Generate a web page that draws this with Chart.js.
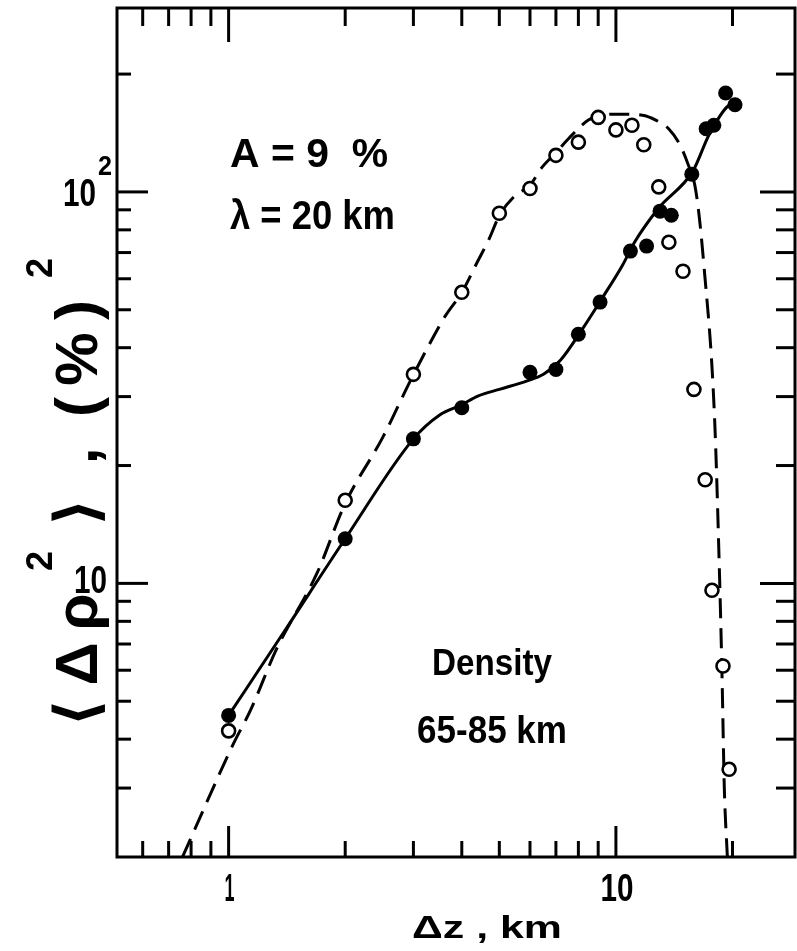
<!DOCTYPE html>
<html><head><meta charset="utf-8">
<script src="https://cdn.jsdelivr.net/npm/chart.js@4.4.1/dist/chart.umd.min.js"></script>
<style>html,body{margin:0;padding:0;background:#fff;overflow:hidden;}canvas{display:block;position:absolute;left:0;top:0;}</style>
</head><body>
<canvas id="c" width="797" height="951" style="width:797px;height:951px"></canvas>
<script>
// ---- data ----
const filledX = [1.0, 2.0, 3.0, 4.0, 6.0, 7.0, 8.0, 9.1, 10.9, 12.0, 13.0, 13.9, 15.7, 17.1, 17.9, 19.2, 20.3];
const filledY = [4.6, 13.0, 23.4, 28.1, 34.6, 35.2, 43.3, 52.3, 70.6, 72.7, 89.3, 87.2, 111, 145, 148, 179, 167];
const openX = [1.0, 2.0, 3.0, 4.0, 5.0, 6.0, 7.0, 8.0, 9.0, 10.0, 11.0, 11.8, 12.9, 13.7, 14.9, 15.9, 17.0, 17.7, 18.9, 19.6];
const openY = [4.2, 16.3, 34.2, 55.4, 88.2, 102, 124, 134, 155, 144, 148, 132, 103, 74.4, 62.7, 31.3, 18.4, 9.6, 6.15, 3.35];
const solidX = [1.0, 1.4, 2.0, 3.0, 3.5, 4.0, 4.4, 5.0, 5.9, 6.5, 7.2, 8.2, 9.2, 10.4, 11.2, 12.9, 15.8, 17.4, 19.5, 20.3];
const solidY = [4.6, 7.6, 13.0, 23.4, 26.9, 28.6, 30.1, 31.3, 32.9, 34.2, 37.2, 44.7, 53.4, 65, 74.7, 91, 113, 140, 166, 168];
const dashX = [0.76, 1.03, 1.14, 1.33, 1.69, 2.0, 2.5, 2.95, 3.39, 3.63, 4.0, 4.39, 4.71, 5.0, 5.47, 6.0, 6.42, 7.0, 7.53, 8.49, 9.2, 10.2, 11.7, 12.67, 13.7, 14.6, 15.3, 16.1, 16.9, 17.97, 18.5, 18.8, 19.05, 19.4];
const dashY = [2.0, 3.9, 4.75, 6.8, 10.6, 16.0, 23.6, 33, 42.9, 48.3, 55.4, 66.3, 76, 87, 97.5, 104, 115, 126, 136.5, 152.6, 157, 158, 157, 152.6, 144.8, 132.5, 118.8, 100, 63.8, 26.7, 10.8, 5.7, 3.0, 2.0];

const xMajorTicks = [1, 10];
const xTickLabels = ['1', '10'];
const xMinorTicks = [0.6, 0.7, 0.8, 0.9, 2, 3, 4, 5, 6, 7, 8, 9, 20];
const yMajorTicks = [10, 100];
const yTickBase = ['10', '10'];
const yTickExp = ['', '2'];
const yMinorTicks = [3, 4, 5, 6, 7, 8, 9, 20, 30, 40, 50, 60, 70, 80, 90, 200];

const yTitleGlyphs = ['\u27E8', '\u0394', '\u03C1', '2', '\u27E9', ',', '(', '%', ')', '2'];
const yTitleSup = [false, false, false, true, false, false, false, false, false, true];

const FONT = '"Liberation Sans", "DejaVu Sans", Arial, sans-serif';

function fitText(ctx, text, left, baseline, size, width) {
  ctx.save();
  ctx.font = 'bold ' + size + 'px ' + FONT;
  const w = ctx.measureText(text).width;
  ctx.translate(left, baseline);
  ctx.scale(width / w, 1);
  ctx.textAlign = 'left';
  ctx.textBaseline = 'alphabetic';
  ctx.fillText(text, 0, 0);
  ctx.restore();
}

const frameTicks = {
  id: 'frameTicks',
  afterDatasetsDraw(chart) {
    const ctx = chart.ctx, a = chart.chartArea, x = chart.scales.x, y = chart.scales.y;
    ctx.save();
    ctx.strokeStyle = '#000';
    ctx.fillStyle = '#000';
    ctx.lineWidth = 3;
    ctx.strokeRect(a.left, a.top, a.right - a.left, a.bottom - a.top);
    const seg = (x1, y1, x2, y2) => { ctx.beginPath(); ctx.moveTo(x1, y1); ctx.lineTo(x2, y2); ctx.stroke(); };
    xMajorTicks.forEach(v => { const p = x.getPixelForValue(v); seg(p, a.bottom, p, a.bottom - 31); seg(p, a.top, p, a.top + 34); });
    xMinorTicks.forEach(v => { const p = x.getPixelForValue(v); seg(p, a.bottom, p, a.bottom - 16); seg(p, a.top, p, a.top + 18); });
    yMajorTicks.forEach(v => { const p = y.getPixelForValue(v); seg(a.left, p, a.left + 31, p); seg(a.right, p, a.right - 35, p); });
    yMinorTicks.forEach(v => { const p = y.getPixelForValue(v); seg(a.left, p, a.left + 14, p); seg(a.right, p, a.right - 19, p); });

    // x tick labels
    xMajorTicks.forEach((v, i) => {
      const p = x.getPixelForValue(v);
      const w = i === 0 ? 10 : 33;
      fitText(ctx, xTickLabels[i], p - w / 2 + 1, 901, 38, w);
    });
    // y tick labels
    yMajorTicks.forEach((v, i) => {
      const p = y.getPixelForValue(v);
      if (yTickExp[i]) {
        fitText(ctx, yTickBase[i], 63, p + 14, 38, 33);
        fitText(ctx, yTickExp[i], 98, p - 17, 27, 14);
      } else {
        fitText(ctx, yTickBase[i], 74, p + 10, 38, 33);
      }
    });
    // x title
    fitText(ctx, '\u0394z , km', 412, 938, 32, 150);

    // y title (rotated, glyph by glyph)
    const centers = [713, 664, 612, 561, 512, 456, 407, 359, 310, 268];
    yTitleGlyphs.forEach((g, i) => {
      ctx.save();
      const sup = yTitleSup[i];
      ctx.translate(sup ? 52 : 97, centers[i]);
      ctx.rotate(-Math.PI / 2);
      ctx.font = 'bold ' + (sup ? 36 : 60) + 'px ' + FONT;
      ctx.textAlign = 'center';
      ctx.textBaseline = 'alphabetic';
      ctx.fillText(g, 0, 0);
      ctx.restore();
    });

    // annotations
    fitText(ctx, 'A = 9  %', 230, 167, 40, 158);
    fitText(ctx, '\u03BB = 20 km', 230, 229, 40, 165);
    fitText(ctx, 'Density', 432, 675, 36, 120);
    fitText(ctx, '65-85 km', 417, 743, 38, 150);
    ctx.restore();
  }
};

new Chart(document.getElementById('c'), {
  type: 'scatter',
  data: {
    datasets: [
      { label: 'filled', data: filledX.map((v, i) => ({x: v, y: filledY[i]})), showLine: false,
        pointRadius: 7.5, pointBackgroundColor: '#000', pointBorderColor: '#000', pointBorderWidth: 0 },
      { label: 'open', data: openX.map((v, i) => ({x: v, y: openY[i]})), showLine: false,
        pointRadius: 6.5, pointBackgroundColor: '#fff', pointBorderColor: '#000', pointBorderWidth: 2.6 },
      { label: 'solid', data: solidX.map((v, i) => ({x: v, y: solidY[i]})), showLine: true,
        borderColor: '#000', borderWidth: 3, pointRadius: 0, cubicInterpolationMode: 'monotone' },
      { label: 'dashed', data: dashX.map((v, i) => ({x: v, y: dashY[i]})), showLine: true,
        borderColor: '#000', borderWidth: 3, borderDash: [20, 10], pointRadius: 0, cubicInterpolationMode: 'monotone' }
    ]
  },
  options: {
    responsive: false,
    animation: false,
    devicePixelRatio: 1,
    layout: { autoPadding: false, padding: { left: 117, right: 2, top: 8, bottom: 94 } },
    plugins: { legend: { display: false }, tooltip: { enabled: false } },
    scales: {
      x: { type: 'logarithmic', min: 0.515, max: 29, display: false },
      y: { type: 'logarithmic', min: 2, max: 295, display: false }
    }
  },
  plugins: [frameTicks]
});
</script>
</body></html>
